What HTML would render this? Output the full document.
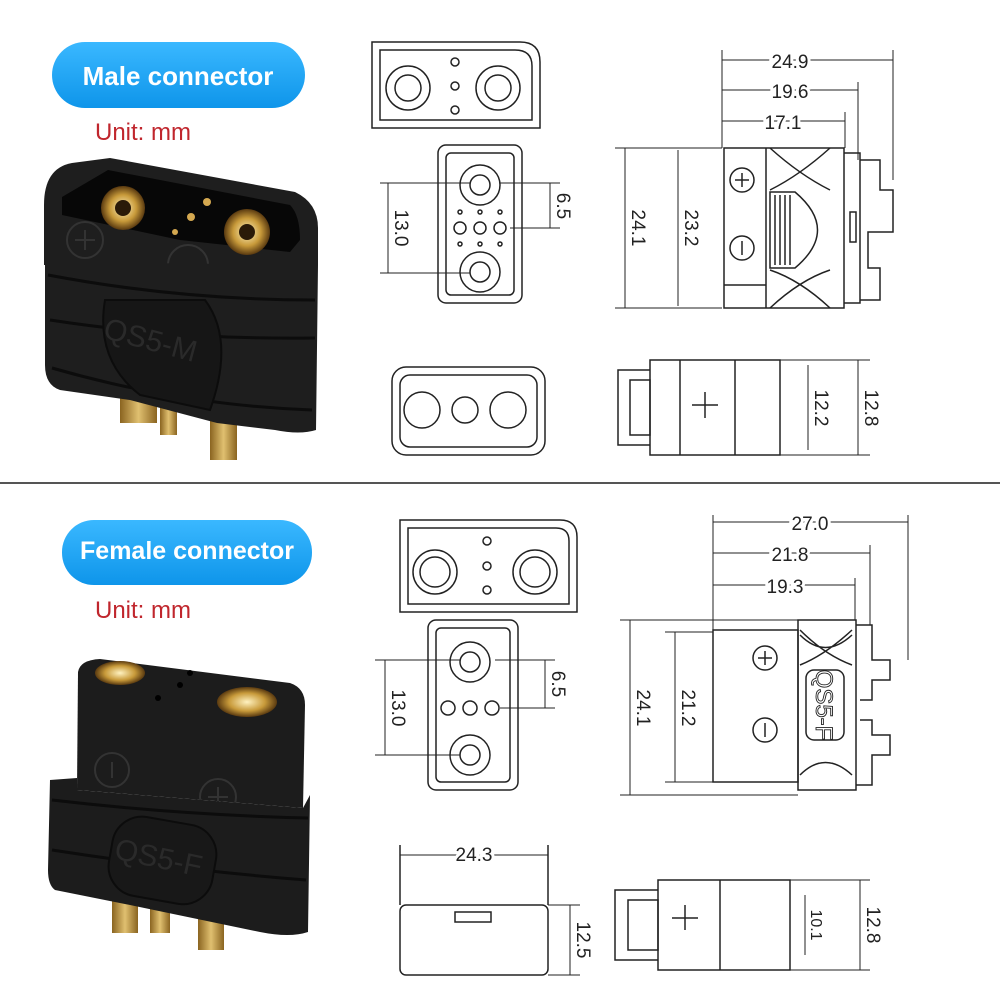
<!DOCTYPE html>
<html><head><meta charset="utf-8"><style>
html,body{margin:0;padding:0;background:#fff}
svg{display:block}
text{font-family:"Liberation Sans",sans-serif}
</style></head><body>
<svg width="1000" height="1000" viewBox="0 0 1000 1000" xmlns="http://www.w3.org/2000/svg">
<defs>
<linearGradient id="pill" x1="0" y1="0" x2="0" y2="1"><stop offset="0" stop-color="#3ab8ff"/><stop offset="1" stop-color="#0e95ea"/></linearGradient>
<radialGradient id="gold"><stop offset="0" stop-color="#fff2c0"/><stop offset=".6" stop-color="#c89a3a"/><stop offset="1" stop-color="#5a3a10"/></radialGradient>
<linearGradient id="pin" x1="0" y1="0" x2="1" y2="0"><stop offset="0" stop-color="#8a6420"/><stop offset=".5" stop-color="#e0c070"/><stop offset="1" stop-color="#8a6420"/></linearGradient>
</defs>
<rect width="1000" height="1000" fill="#fff"/>
<line x1="0" y1="483" x2="1000" y2="483" stroke="#555" stroke-width="2"/>

<rect x="52" y="42" width="253" height="66" rx="33" fill="url(#pill)"/>
<text x="178" y="85" font-size="26" font-weight="bold" fill="#fff" text-anchor="middle">Male connector</text>
<text x="95" y="140" font-size="24" fill="#c0262d">Unit: mm</text>

<g>
<rect x="120" y="393" width="37" height="30" fill="url(#pin)"/>
<rect x="160" y="405" width="17" height="30" fill="url(#pin)"/>
<rect x="210" y="405" width="27" height="55" fill="url(#pin)"/>
<path d="M44 205 Q44 168 72 163 L110 158 L295 192 Q318 203 318 228 L318 265 L44 265 Z" fill="#1e1e1e"/>
<path d="M62 197 L108 170 L290 205 Q300 215 300 240 L290 252 L180 240 L62 215 Z" fill="#070707"/>
<circle cx="123" cy="208" r="22" fill="url(#gold)"/><circle cx="123" cy="208" r="8" fill="#2a1a08"/>
<circle cx="247" cy="232" r="23" fill="url(#gold)"/><circle cx="247" cy="232" r="8" fill="#2a1a08"/>
<circle cx="207" cy="202" r="4" fill="#d4a850"/><circle cx="191" cy="217" r="4" fill="#d4a850"/><circle cx="175" cy="232" r="3" fill="#d4a850"/>
<circle cx="85" cy="240" r="18" fill="none" stroke="#333" stroke-width="2"/>
<path d="M75 240 H95 M85 230 V250" stroke="#333" stroke-width="2"/>
<circle cx="188" cy="265" r="20" fill="none" stroke="#333" stroke-width="2"/>
<path d="M178 265 H198" stroke="#333" stroke-width="2"/>
<path d="M45 262 L318 265 L316 430 Q300 435 275 430 L217 423 L130 400 L60 390 Q45 385 45 365 Z" fill="#1e1e1e"/>
<path d="M48 275 Q180 300 315 300 M50 320 Q180 340 315 338 M52 368 Q180 405 312 410" stroke="#0c0c0c" stroke-width="3" fill="none"/>
<path d="M105 300 Q95 360 140 395 L210 410 Q235 340 205 300 Z" fill="#161616" stroke="#0c0c0c" stroke-width="2"/>
<text x="103" y="350" font-size="30" fill="#2a2a2a" transform="rotate(15 150 340)">QS5-M</text>
</g>

<g fill="none" stroke="#222" stroke-width="1.5">
<path d="M372 42 H520 Q540 42 540 62 V128 H372 Z"/>
<path d="M380 50 H515 Q532 50 532 66 V120 H380 Z"/>
<circle cx="408" cy="88" r="22"/><circle cx="408" cy="88" r="13"/>
<circle cx="498" cy="88" r="22"/><circle cx="498" cy="88" r="13"/>
<circle cx="455" cy="62" r="4"/><circle cx="455" cy="86" r="4"/><circle cx="455" cy="110" r="4"/>
<rect x="438" y="145" width="84" height="158" rx="8"/>
<rect x="446" y="153" width="68" height="142" rx="5"/>
<circle cx="480" cy="185" r="20"/><circle cx="480" cy="185" r="10"/>
<circle cx="480" cy="272" r="20"/><circle cx="480" cy="272" r="10"/>
<circle cx="460" cy="228" r="6"/><circle cx="480" cy="228" r="6"/><circle cx="500" cy="228" r="6"/>
<circle cx="460" cy="212" r="2"/><circle cx="480" cy="212" r="2"/><circle cx="500" cy="212" r="2"/>
<circle cx="460" cy="244" r="2"/><circle cx="480" cy="244" r="2"/><circle cx="500" cy="244" r="2"/>
<rect x="392" y="367" width="153" height="88" rx="14"/>
<rect x="400" y="375" width="137" height="72" rx="10"/>
<circle cx="422" cy="410" r="18"/><circle cx="465" cy="410" r="13"/><circle cx="508" cy="410" r="18"/>
<rect x="724" y="148" width="120" height="160"/>
<line x1="766" y1="148" x2="766" y2="308"/>
<line x1="724" y1="285" x2="766" y2="285"/>
<path d="M844 153 H860 V303 H844"/>
<path d="M860 160 H880 V190 H893 V232 H868 V268 H880 V300 H860"/>
<circle cx="742" cy="180" r="12"/><path d="M735 180 H749 M742 173 V187"/>
<circle cx="742" cy="248" r="12"/><path d="M742 241 V255"/>
<path d="M770 148 Q800 175 830 190 M830 148 Q800 175 770 190 M770 308 Q800 280 830 270 M830 308 Q800 280 770 270"/>
<path d="M770 192 H795 Q840 230 795 268 H770 Z"/>
<path d="M775 195 V265 M780 195 V265 M785 195 V265 M790 195 V265"/>
<rect x="850" y="212" width="6" height="30"/>
<rect x="650" y="360" width="130" height="95"/>
<path d="M650 370 H618 V445 H650 M630 380 H650 V435 H630 Z"/>
<line x1="705" y1="392" x2="705" y2="418"/><line x1="692" y1="405" x2="718" y2="405"/>
<line x1="680" y1="360" x2="680" y2="455"/><line x1="735" y1="360" x2="735" y2="455"/>
</g>

<g stroke="#222" stroke-width="1" fill="none">
<line x1="722" y1="50" x2="722" y2="148"/><line x1="893" y1="50" x2="893" y2="180"/><line x1="858" y1="82" x2="858" y2="160"/><line x1="845" y1="112" x2="845" y2="148"/>
<line x1="722" y1="60" x2="893" y2="60"/><line x1="722" y1="90" x2="858" y2="90"/><line x1="722" y1="121" x2="845" y2="121"/>
<line x1="615" y1="148" x2="722" y2="148"/><line x1="615" y1="308" x2="722" y2="308"/>
<line x1="625" y1="148" x2="625" y2="308"/><line x1="678" y1="150" x2="678" y2="306"/>
<line x1="380" y1="183" x2="470" y2="183"/><line x1="380" y1="273" x2="470" y2="273"/>
<line x1="388" y1="183" x2="388" y2="273"/>
<line x1="500" y1="183" x2="560" y2="183"/><line x1="510" y1="228" x2="560" y2="228"/><line x1="550" y1="183" x2="550" y2="228"/>
<line x1="780" y1="360" x2="870" y2="360"/><line x1="780" y1="455" x2="870" y2="455"/>
<line x1="808" y1="365" x2="808" y2="450"/><line x1="858" y1="360" x2="858" y2="455"/>
</g>
<g font-size="19" fill="#222">
<text x="790" y="68" text-anchor="middle" style="paint-order:stroke" stroke="#fff" stroke-width="6">24.9</text>
<text x="790" y="98" text-anchor="middle" style="paint-order:stroke" stroke="#fff" stroke-width="6">19.6</text>
<text x="783" y="129" text-anchor="middle" style="paint-order:stroke" stroke="#fff" stroke-width="6">17.1</text>
<text transform="translate(632 228) rotate(90)" text-anchor="middle" style="paint-order:stroke" stroke="#fff" stroke-width="6">24.1</text>
<text transform="translate(685 228) rotate(90)" text-anchor="middle" style="paint-order:stroke" stroke="#fff" stroke-width="6">23.2</text>
<text transform="translate(395 228) rotate(90)" text-anchor="middle" style="paint-order:stroke" stroke="#fff" stroke-width="6">13.0</text>
<text transform="translate(557 206) rotate(90)" text-anchor="middle" style="paint-order:stroke" stroke="#fff" stroke-width="6">6.5</text>
<text transform="translate(815 408) rotate(90)" text-anchor="middle" style="paint-order:stroke" stroke="#fff" stroke-width="6">12.2</text>
<text transform="translate(865 408) rotate(90)" text-anchor="middle" style="paint-order:stroke" stroke="#fff" stroke-width="6">12.8</text>
</g>

<rect x="62" y="520" width="250" height="65" rx="32" fill="url(#pill)"/>
<text x="187" y="559" font-size="25" font-weight="bold" fill="#fff" text-anchor="middle">Female connector</text>
<text x="95" y="618" font-size="24" fill="#c0262d">Unit: mm</text>

<g>
<rect x="112" y="895" width="26" height="38" fill="url(#pin)"/>
<rect x="150" y="903" width="20" height="30" fill="url(#pin)"/>
<rect x="198" y="915" width="26" height="35" fill="url(#pin)"/>
<path d="M78 672 Q80 660 100 659 L290 683 Q305 688 305 705 L303 808 L77 790 Z" fill="#1c1c1c"/>
<ellipse cx="120" cy="673" rx="25" ry="12" fill="url(#gold)"/>
<ellipse cx="247" cy="702" rx="30" ry="15" fill="url(#gold)"/>
<circle cx="190" cy="673" r="3" fill="#000"/><circle cx="180" cy="685" r="3" fill="#000"/><circle cx="158" cy="698" r="3" fill="#000"/>
<circle cx="112" cy="770" r="17" fill="none" stroke="#333" stroke-width="2"/><path d="M112 762 V778" stroke="#333" stroke-width="2"/>
<circle cx="218" cy="797" r="18" fill="none" stroke="#333" stroke-width="2"/><path d="M208 797 H228 M218 787 V807" stroke="#333" stroke-width="2"/>
<path d="M50 780 L77 778 L77 790 L303 808 L310 795 L308 932 Q290 938 260 932 L130 905 L55 890 Q48 885 48 870 Z" fill="#1c1c1c"/>
<path d="M52 800 Q180 815 308 818 M52 850 Q180 870 306 880" stroke="#0c0c0c" stroke-width="3" fill="none"/>
<rect x="110" y="820" width="105" height="80" rx="30" fill="#181818" stroke="#0c0c0c" stroke-width="2" transform="rotate(10 160 860)"/>
<text x="115" y="868" font-size="30" fill="#2a2a2a" transform="rotate(12 160 855)">QS5-F</text>
</g>

<g fill="none" stroke="#222" stroke-width="1.5">
<path d="M400 520 H560 Q577 520 577 537 V612 H400 Z"/>
<path d="M408 528 H556 Q569 528 569 541 V604 H408 Z"/>
<circle cx="435" cy="572" r="22"/><circle cx="435" cy="572" r="15"/>
<circle cx="535" cy="572" r="22"/><circle cx="535" cy="572" r="15"/>
<circle cx="487" cy="541" r="4"/><circle cx="487" cy="566" r="4"/><circle cx="487" cy="590" r="4"/>
<rect x="428" y="620" width="90" height="170" rx="8"/>
<rect x="436" y="628" width="74" height="154" rx="5"/>
<circle cx="470" cy="662" r="20"/><circle cx="470" cy="662" r="10"/>
<circle cx="470" cy="755" r="20"/><circle cx="470" cy="755" r="10"/>
<circle cx="448" cy="708" r="7"/><circle cx="470" cy="708" r="7"/><circle cx="492" cy="708" r="7"/>
<rect x="400" y="905" width="148" height="70" rx="6"/>
<rect x="455" y="912" width="36" height="10"/>
<line x1="400" y1="845" x2="400" y2="905"/><line x1="548" y1="845" x2="548" y2="905"/>
<rect x="713" y="630" width="85" height="152"/>
<rect x="798" y="620" width="58" height="170"/>
<path d="M856 625 H872 V660 H890 V680 H872 V700 H860 M856 785 H872 V755 H890 V735 H872 V720 H860"/>
<circle cx="765" cy="658" r="12"/><path d="M758 658 H772 M765 651 V665"/>
<circle cx="765" cy="730" r="12"/><path d="M765 723 V737"/>
<path d="M800 635 Q825 660 852 635 M800 775 Q825 750 852 775 M800 630 Q825 655 852 665 M852 630 Q825 655 800 665"/>
<rect x="806" y="670" width="38" height="70" rx="8"/>
<rect x="658" y="880" width="132" height="90"/>
<path d="M658 890 H615 V960 H658 M628 900 H658 V950 H628 Z"/>
<line x1="685" y1="905" x2="685" y2="930"/><line x1="672" y1="918" x2="698" y2="918"/>
<line x1="720" y1="880" x2="720" y2="970"/>
</g>
<text transform="translate(816 705) rotate(90)" text-anchor="middle" font-size="24" fill="#fff" stroke="#222" stroke-width="0.9">QS5-F</text>
<g stroke="#222" stroke-width="1" fill="none">
<line x1="713" y1="515" x2="713" y2="630"/><line x1="908" y1="515" x2="908" y2="660"/><line x1="870" y1="545" x2="870" y2="625"/><line x1="855" y1="578" x2="855" y2="620"/>
<line x1="713" y1="522" x2="908" y2="522"/><line x1="713" y1="553" x2="870" y2="553"/><line x1="713" y1="585" x2="855" y2="585"/>
<line x1="620" y1="620" x2="798" y2="620"/><line x1="620" y1="795" x2="798" y2="795"/>
<line x1="630" y1="620" x2="630" y2="795"/><line x1="675" y1="632" x2="675" y2="782"/>
<line x1="665" y1="632" x2="713" y2="632"/><line x1="665" y1="782" x2="713" y2="782"/>
<line x1="375" y1="660" x2="460" y2="660"/><line x1="375" y1="755" x2="460" y2="755"/><line x1="385" y1="660" x2="385" y2="755"/>
<line x1="495" y1="660" x2="555" y2="660"/><line x1="500" y1="708" x2="555" y2="708"/><line x1="545" y1="660" x2="545" y2="708"/>
<line x1="400" y1="855" x2="548" y2="855"/>
<line x1="548" y1="905" x2="580" y2="905"/><line x1="548" y1="975" x2="580" y2="975"/><line x1="570" y1="905" x2="570" y2="975"/>
<line x1="790" y1="880" x2="870" y2="880"/><line x1="790" y1="970" x2="870" y2="970"/>
<line x1="805" y1="895" x2="805" y2="955"/><line x1="860" y1="880" x2="860" y2="970"/>
</g>
<g font-size="19" fill="#222">
<text x="810" y="530" text-anchor="middle" style="paint-order:stroke" stroke="#fff" stroke-width="6">27.0</text>
<text x="790" y="561" text-anchor="middle" style="paint-order:stroke" stroke="#fff" stroke-width="6">21.8</text>
<text x="785" y="593" text-anchor="middle" style="paint-order:stroke" stroke="#fff" stroke-width="6">19.3</text>
<text transform="translate(637 708) rotate(90)" text-anchor="middle" style="paint-order:stroke" stroke="#fff" stroke-width="6">24.1</text>
<text transform="translate(682 708) rotate(90)" text-anchor="middle" style="paint-order:stroke" stroke="#fff" stroke-width="6">21.2</text>
<text transform="translate(392 708) rotate(90)" text-anchor="middle" style="paint-order:stroke" stroke="#fff" stroke-width="6">13.0</text>
<text transform="translate(552 684) rotate(90)" text-anchor="middle" style="paint-order:stroke" stroke="#fff" stroke-width="6">6.5</text>
<text x="474" y="861" text-anchor="middle" style="paint-order:stroke" stroke="#fff" stroke-width="6">24.3</text>
<text transform="translate(577 940) rotate(90)" text-anchor="middle" style="paint-order:stroke" stroke="#fff" stroke-width="6">12.5</text>
<text transform="translate(811 925) rotate(90)" text-anchor="middle" font-size="16" style="paint-order:stroke" stroke="#fff" stroke-width="6">10.1</text>
<text transform="translate(867 925) rotate(90)" text-anchor="middle" style="paint-order:stroke" stroke="#fff" stroke-width="6">12.8</text>
</g>
</svg>
</body></html>
